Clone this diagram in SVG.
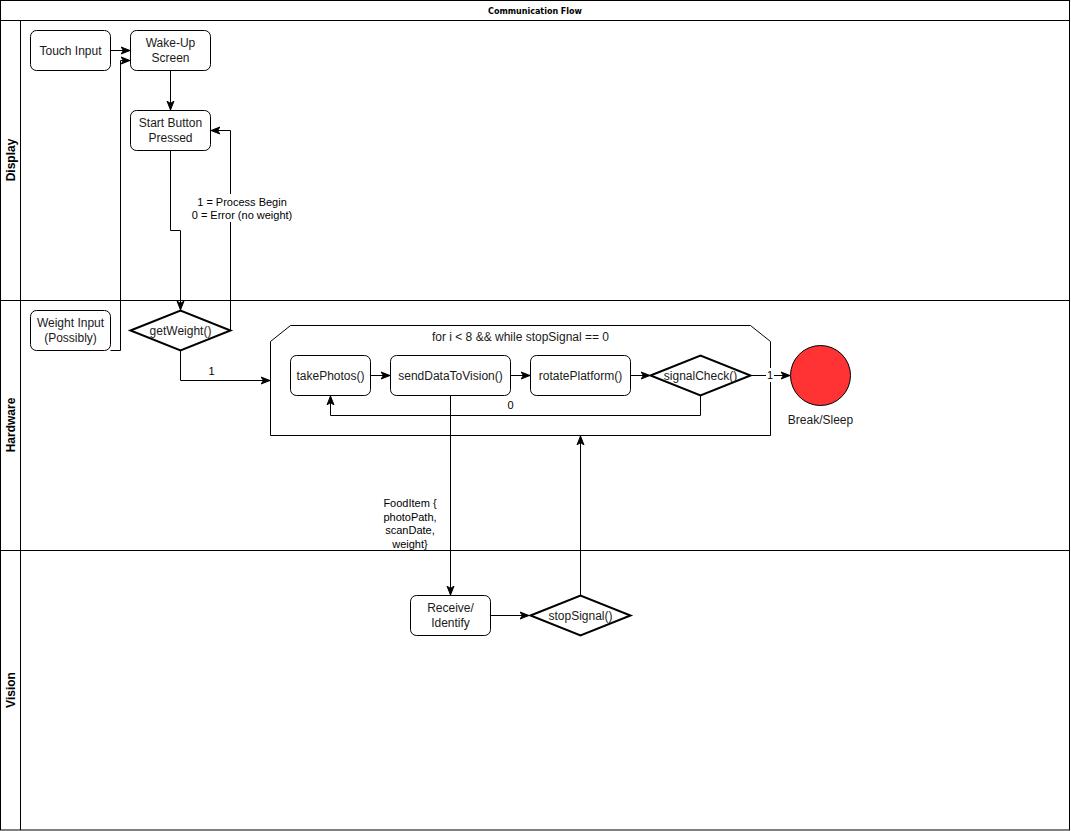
<svg xmlns="http://www.w3.org/2000/svg" width="1071" height="831" viewBox="0 0 1071 831">
  <style>
    .lane { fill: none; stroke: #000; stroke-width: 1; }
    .node { fill: #fff; stroke: #000; stroke-width: 1; }
    .dec { fill: #fff; stroke: #000; stroke-width: 2; }
    .t { font-family: "Liberation Sans", Arial, sans-serif; font-size: 12px; fill: #1a1a1a; text-anchor: middle; }
    .lbl { font-family: "Liberation Sans", Arial, sans-serif; font-size: 11px; fill: #000; text-anchor: middle; }
    .lanet { font-family: "Liberation Sans", Arial, sans-serif; font-size: 12px; font-weight: bold; fill: #000; text-anchor: middle; }
    .edge { fill: none; stroke: #000; stroke-width: 1; marker-end: url(#arr); }
  </style>
  <defs>
    <marker id="arr" viewBox="0 0 10 10" refX="9" refY="5" markerWidth="10" markerHeight="10" markerUnits="userSpaceOnUse" orient="auto">
      <path d="M0,1.5 L9,5 L0,8.5 L2.5,5 Z" fill="#000" stroke="#000" stroke-width="1"/>
    </marker>
  </defs>
  <rect width="1071" height="831" fill="#fff"/>

  <!-- pool and lanes -->
  <g id="pool">
    <rect class="lane" x="0.5" y="0.5" width="1069" height="829.5"/>
    <line class="lane" x1="0.5" y1="20.5" x2="1069.5" y2="20.5"/>
    <line class="lane" x1="20.5" y1="20.5" x2="20.5" y2="830"/>
    <line class="lane" x1="0.5" y1="300.5" x2="1069.5" y2="300.5"/>
    <line class="lane" x1="0.5" y1="550.5" x2="1069.5" y2="550.5"/>
    <text x="535" y="13.5" font-family="'DejaVu Sans', Verdana, sans-serif" font-size="8" font-weight="bold" text-anchor="middle">Communication Flow</text>
    <text class="lanet" transform="translate(14.5,160) rotate(-90)">Display</text>
    <text class="lanet" transform="translate(14.5,425) rotate(-90)">Hardware</text>
    <text class="lanet" transform="translate(14.5,690) rotate(-90)">Vision</text>
  </g>

  <!-- loop container sits behind the edges it holds -->
  <g id="photo-loop">
    <polygon class="node" points="270.5,341.5 290.5,325.5 750.5,325.5 770.5,341.5 770.5,435.5 270.5,435.5"/>
    <text class="t" x="520.5" y="340.5">for i &lt; 8 &amp;&amp; while stopSignal == 0</text>
  </g>

  <!-- connectors -->
  <g id="connectors">
    <path class="edge" d="M110.5,50.5 H130"/>
    <path class="edge" d="M110.5,350.5 H120.5 V60.5 H130"/>
    <path class="edge" d="M170.5,70.5 V110"/>
    <path class="edge" d="M170.5,150.5 V230.5 H180.5 V310"/>
    <path class="edge" d="M230.5,330.5 V130.5 H211"/>
    <path class="edge" d="M180.5,350.5 V380.5 H270"/>
    <path class="edge" d="M370.5,375.5 H390"/>
    <path class="edge" d="M510.5,375.5 H530"/>
    <path class="edge" d="M630.5,375.5 H650"/>
    <path class="edge" d="M750.5,375.5 H790"/>
    <path class="edge" d="M700.5,395.5 V415.5 H330.5 V396"/>
    <path class="edge" d="M450.5,395.5 V595"/>
    <path class="edge" d="M490.5,615.5 H529"/>
    <path class="edge" d="M580.5,595.5 V436"/>

    <rect x="184" y="194" width="116" height="28" fill="#fff"/>
    <text class="lbl" x="242" y="205.5">1 = Process Begin</text>
    <text class="lbl" x="242" y="219">0 = Error (no weight)</text>
    <text class="lbl" x="211.5" y="375">1</text>
    <text class="lbl" x="510.5" y="409">0</text>
    <rect x="766" y="368" width="8" height="14" fill="#fff"/>
    <text class="lbl" x="770" y="379">1</text>
    <text class="lbl" x="410" y="507">FoodItem {</text>
    <text class="lbl" x="410" y="520.5">photoPath,</text>
    <text class="lbl" x="410" y="534">scanDate,</text>
    <text class="lbl" x="410" y="547.5">weight}</text>
  </g>

  <!-- Display lane -->
  <g id="touch-input">
    <rect class="node" x="30.5" y="30.5" width="80" height="40" rx="6"/>
    <text class="t" x="70.5" y="54.5">Touch Input</text>
  </g>
  <g id="wake-up-screen">
    <rect class="node" x="130.5" y="30.5" width="80" height="40" rx="6"/>
    <text class="t" x="170.5" y="47">Wake-Up</text>
    <text class="t" x="170.5" y="61.5">Screen</text>
  </g>
  <g id="start-button">
    <rect class="node" x="130.5" y="110.5" width="80" height="40" rx="6"/>
    <text class="t" x="170.5" y="127">Start Button</text>
    <text class="t" x="170.5" y="141.5">Pressed</text>
  </g>

  <!-- Hardware lane -->
  <g id="weight-input">
    <rect class="node" x="30.5" y="310.5" width="80" height="40" rx="6"/>
    <text class="t" x="70.5" y="327">Weight Input</text>
    <text class="t" x="70.5" y="341.5">(Possibly)</text>
  </g>
  <g id="get-weight">
    <polygon class="dec" points="130.5,330.5 180.5,310.5 230.5,330.5 180.5,350.5"/>
    <text class="t" x="180.5" y="334.5">getWeight()</text>
  </g>
  <g id="take-photos">
    <rect class="node" x="290.5" y="355.5" width="80" height="40" rx="6"/>
    <text class="t" x="330.5" y="379.5">takePhotos()</text>
  </g>
  <g id="send-data">
    <rect class="node" x="390.5" y="355.5" width="120" height="40" rx="6"/>
    <text class="t" x="450.5" y="379.5">sendDataToVision()</text>
  </g>
  <g id="rotate-platform">
    <rect class="node" x="530.5" y="355.5" width="100" height="40" rx="6"/>
    <text class="t" x="580.5" y="379.5">rotatePlatform()</text>
  </g>
  <g id="signal-check">
    <polygon class="dec" points="650.5,375.5 700.5,355.5 750.5,375.5 700.5,395.5"/>
    <text class="t" x="700.5" y="379.5">signalCheck()</text>
  </g>
  <g id="break-sleep">
    <circle cx="820.5" cy="375.5" r="30" fill="#ff3333" stroke="#000" stroke-width="1"/>
    <text class="t" x="820.5" y="423.5">Break/Sleep</text>
  </g>

  <!-- Vision lane -->
  <g id="receive-identify">
    <rect class="node" x="410.5" y="595.5" width="80" height="40" rx="6"/>
    <text class="t" x="450.5" y="612">Receive/</text>
    <text class="t" x="450.5" y="626.5">Identify</text>
  </g>
  <g id="stop-signal">
    <polygon class="dec" points="530.5,615.5 580.5,595.5 630.5,615.5 580.5,635.5"/>
    <text class="t" x="580.5" y="619.5">stopSignal()</text>
  </g>
</svg>
